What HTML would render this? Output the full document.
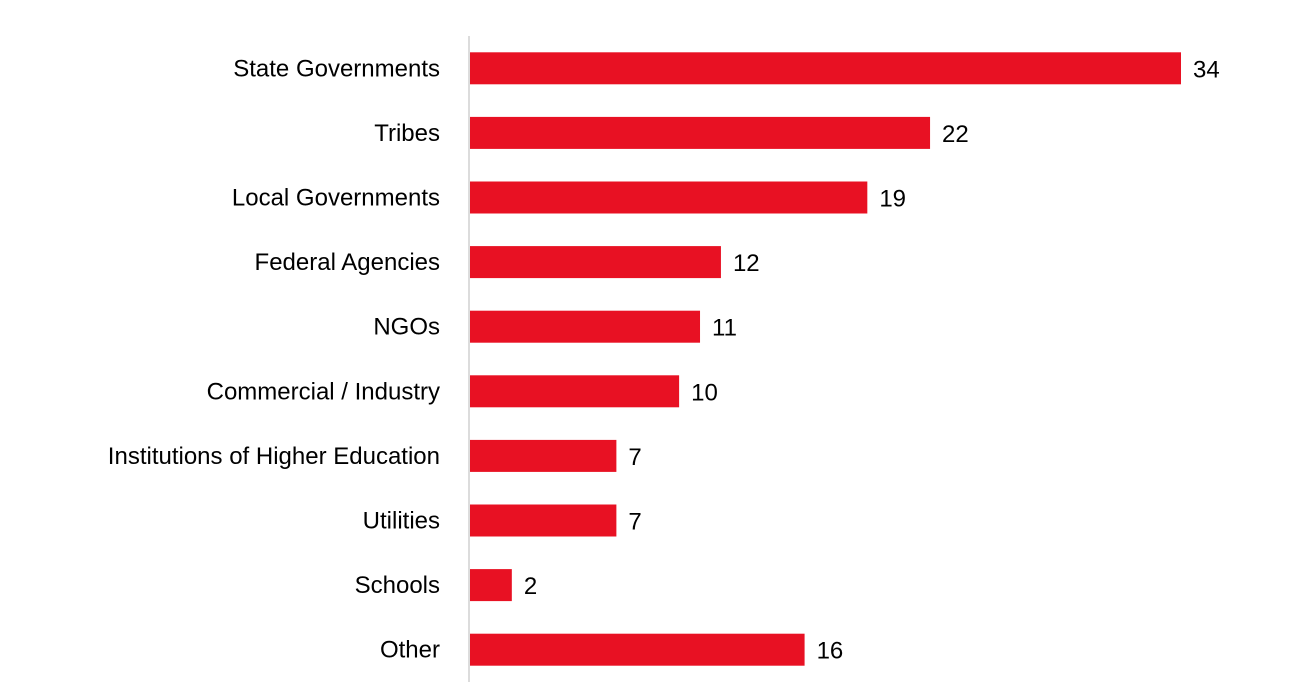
<!DOCTYPE html>
<html>
<head>
<meta charset="utf-8">
<style>
html,body{margin:0;padding:0;background:#fff;}
svg{display:block;}
text{font-family:"Liberation Sans",sans-serif;font-size:24px;fill:#000;}
</style>
</head>
<body>
<svg id="chart" width="1309" height="700">
  <line x1="469" y1="36" x2="469" y2="682" stroke="#d0d0d0" stroke-width="1.5"/>
  <g id="bars"></g>
</svg>
<script>
const categories = ["State Governments","Tribes","Local Governments","Federal Agencies","NGOs","Commercial / Industry","Institutions of Higher Education","Utilities","Schools","Other"];
const values = [34,22,19,12,11,10,7,7,2,16];

{
const x0 = 470, pxPerUnit = (1181 - 470) / 34;
const plotTop = 36, band = 64.6, barH = 32;
function xScale(v){ return x0 + v * pxPerUnit; }
function yCenter(i){ return plotTop + band * (i + 0.5); }

const ns = "http://www.w3.org/2000/svg";
const g = document.getElementById("bars");
categories.forEach((c, i) => {
  const cy = yCenter(i);
  const r = document.createElementNS(ns, "rect");
  r.setAttribute("x", x0);
  r.setAttribute("y", cy - barH / 2);
  r.setAttribute("width", xScale(values[i]) - x0);
  r.setAttribute("height", barH);
  r.setAttribute("fill", "#E81123");
  
  
  g.appendChild(r);

  const lab = document.createElementNS(ns, "text");
  lab.setAttribute("x", 440);
  lab.setAttribute("y", cy + 8);
  lab.setAttribute("text-anchor", "end");
  lab.textContent = c;
  
  
  g.appendChild(lab);

  const v = document.createElementNS(ns, "text");
  v.setAttribute("x", xScale(values[i]) + 12);
  v.setAttribute("y", cy + 9);
  v.textContent = values[i];
  
  
  g.appendChild(v);
});
}
</script>
</body>
</html>
